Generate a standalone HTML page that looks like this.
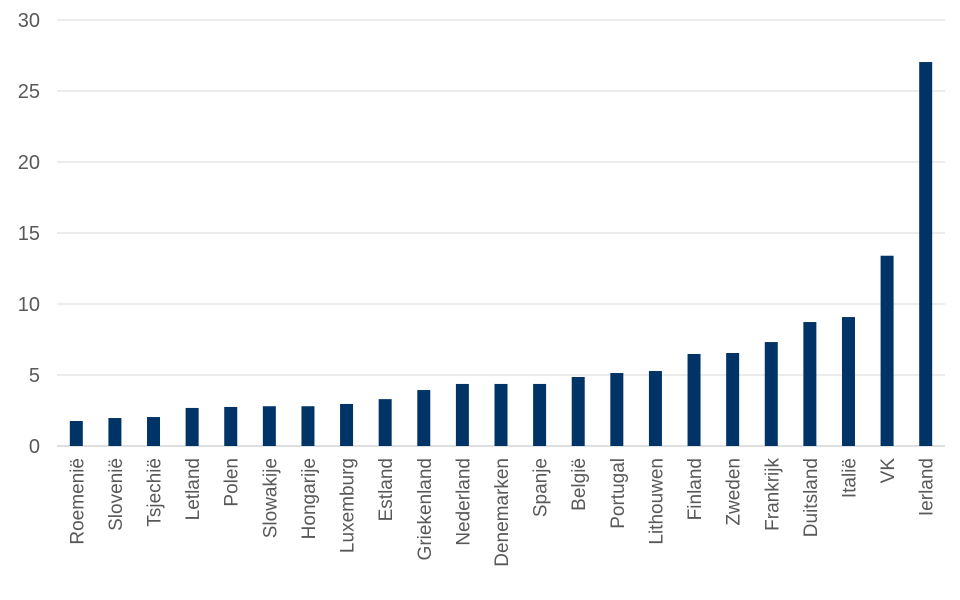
<!DOCTYPE html>
<html><head><meta charset="utf-8"><style>
body{margin:0;background:#fff;}
svg{display:block;font-family:"Liberation Sans",sans-serif;}
</style></head><body>
<svg id="chart" width="960" height="600" viewBox="0 0 960 600"></svg>
<script>
const categories=["Roemenië","Slovenië","Tsjechië","Letland","Polen","Slowakije","Hongarije","Luxemburg","Estland","Griekenland","Nederland","Denemarken","Spanje","België","Portugal","Lithouwen","Finland","Zweden","Frankrijk","Duitsland","Italië","VK","Ierland"];
const values=[1.76,1.97,2.04,2.68,2.75,2.8,2.8,2.96,3.3,3.94,4.37,4.37,4.37,4.86,5.14,5.28,6.48,6.55,7.32,8.73,9.08,13.4,27.04];
const yTicks=[0,5,10,15,20,25,30];
const NS="http://www.w3.org/2000/svg";
const svg=document.getElementById('chart');
const L=57,R=945,T=20,B=446,yMax=30;
const band=(R-L)/categories.length,bw=13;
const y=v=>B-(v/yMax)*(B-T);
const x=i=>L+band*(i+0.5);
function mk(t,a){const e=document.createElementNS(NS,t);for(const k in a)e.setAttribute(k,a[k]);svg.appendChild(e);return e;}
yTicks.forEach(t=>{
  const g=mk('line',{x1:L,x2:R,y1:y(t),y2:y(t),stroke:t===0?'#bfbfbf':'#d9d9d9','stroke-width':1});
  
  
  const tx=mk('text',{x:40,y:y(t)+7,'text-anchor':'end','font-size':20,fill:'#595959'});
  tx.textContent=t;
  
  
});
categories.forEach((c,i)=>{
  const r=mk('rect',{x:x(i)-bw/2,y:y(values[i]),width:bw,height:B-y(values[i]),fill:'#003366'});
  
  
  const tx=mk('text',{transform:`translate(${x(i)+7},458) rotate(-90)`,'text-anchor':'end','font-size':19,fill:'#595959'});
  tx.textContent=c;
  
  
});
</script>
</body></html>
